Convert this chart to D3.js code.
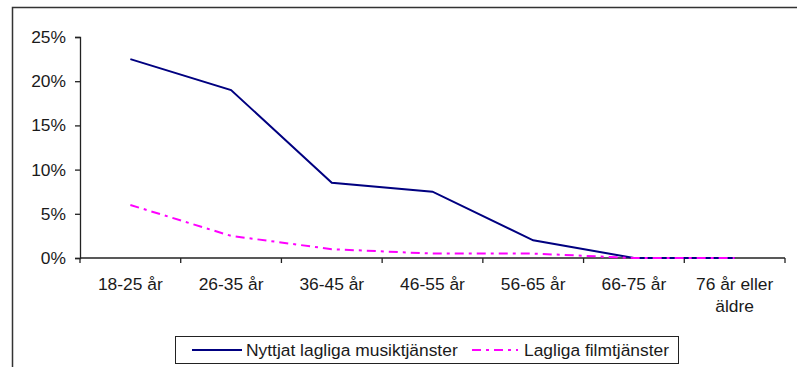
<!DOCTYPE html>
<html>
<head>
<meta charset="utf-8">
<script src="https://cdn.jsdelivr.net/npm/d3@7"></script>
<style>
  html, body { margin: 0; padding: 0; background: #fff; }
  svg { display: block; font-family: "Liberation Sans", Arial, sans-serif; }
</style>
</head>
<body>
<svg id="chart" width="797" height="367"></svg>
<script>
// Andel per åldersgrupp (procent)
const categories = ["18-25 år", "26-35 år", "36-45 år", "46-55 år", "56-65 år", "66-75 år", "76 år eller äldre"];
const musicValues = [22.5, 19, 8.5, 7.5, 2, 0, 0];
const filmValues = [6, 2.5, 1, 0.5, 0.5, 0, 0];
const yTicks = [0, 5, 10, 15, 20, 25];
const seriesNames = ["Nyttjat lagliga musiktjänster", "Lagliga filmtjänster"];

(function () {
  const svg = d3.select("#chart");
  const fontSize = 17.4;
  const axisColor = "#222";
  const textColor = "#1a1a1a";

  // Yttre ram
  svg.append("rect")
    .attr("x", 12.5).attr("y", 7.5)
    .attr("width", 820).attr("height", 400)
    .attr("fill", "none").attr("stroke", "#333").attr("stroke-width", 1.5);

  const plotLeft = 80, plotRight = 785, plotTop = 37, plotBottom = 258;

  const x = d3.scaleBand().domain(categories).range([plotLeft, plotRight]);
  const y = d3.scaleLinear().domain([0, 25]).range([plotBottom, plotTop]);

  // Y-axel
  const yAxis = d3.axisLeft(y).tickValues(yTicks).tickFormat(d => d + "%")
    .tickSizeOuter(0).tickSize(5).tickPadding(9);
  const gy = svg.append("g").attr("transform", `translate(${plotLeft},0)`).call(yAxis);
  gy.select(".domain").attr("stroke", axisColor).attr("stroke-width", 1.3);
  gy.selectAll(".tick line").attr("stroke", axisColor).attr("stroke-width", 1.3);
  gy.selectAll(".tick text").attr("font-size", fontSize).attr("fill", textColor)
    .attr("font-family", "Liberation Sans, Arial, sans-serif");

  // X-axel med streck på kategorigränserna
  const gx = svg.append("g");
  gx.append("line")
    .attr("x1", plotLeft).attr("x2", plotRight).attr("y1", plotBottom).attr("y2", plotBottom)
    .attr("stroke", axisColor).attr("stroke-width", 1.3);
  const boundaries = categories.map(c => x(c)).concat([plotRight]);
  gx.selectAll("line.tick").data(boundaries).enter().append("line")
    .attr("class", "tick")
    .attr("x1", d => d).attr("x2", d => d)
    .attr("y1", plotBottom).attr("y2", plotBottom + 5)
    .attr("stroke", axisColor).attr("stroke-width", 1.3);

  // Kategorietiketter (långa etiketter bryts på två rader)
  const labelLines = c => c === "76 år eller äldre" ? ["76 år eller", "äldre"] : [c];
  categories.forEach(c => {
    const cx = x(c) + x.bandwidth() / 2;
    const t = gx.append("text")
      .attr("x", cx)
      .attr("y", 290)
      .attr("text-anchor", "middle")
      .attr("font-size", fontSize)
      .attr("fill", textColor);
    labelLines(c).forEach((ln, i) => {
      t.append("tspan")
        .attr("x", cx)
        .attr("dy", i === 0 ? 0 : 22)
        .text(ln);
    });
  });

  // Linjer (filmserien ritas överst)
  const line = d3.line()
    .x((d, i) => x(categories[i]) + x.bandwidth() / 2)
    .y(d => y(d));

  svg.append("path")
    .datum(musicValues)
    .attr("d", line)
    .attr("fill", "none")
    .attr("stroke", "#000080")
    .attr("stroke-width", 2);

  svg.append("path")
    .datum(filmValues)
    .attr("d", line)
    .attr("fill", "none")
    .attr("stroke", "#ff00ff")
    .attr("stroke-width", 2)
    .attr("stroke-dasharray", "9,5,3,5");

  // Förklaring
  const lg = svg.append("g");
  lg.append("rect")
    .attr("x", 175.5).attr("y", 336.5)
    .attr("width", 503).attr("height", 27)
    .attr("fill", "#fff").attr("stroke", "#222").attr("stroke-width", 1);

  lg.append("line")
    .attr("x1", 192).attr("x2", 242).attr("y1", 350).attr("y2", 350)
    .attr("stroke", "#000080").attr("stroke-width", 2);
  lg.append("text")
    .attr("x", 246).attr("y", 356)
    .attr("font-size", fontSize).attr("fill", textColor)
    .text(seriesNames[0]);

  lg.append("line")
    .attr("x1", 472).attr("x2", 518).attr("y1", 350).attr("y2", 350)
    .attr("stroke", "#ff00ff").attr("stroke-width", 2)
    .attr("stroke-dasharray", "9,5,3,5");
  lg.append("text")
    .attr("x", 524).attr("y", 356)
    .attr("font-size", fontSize).attr("fill", textColor)
    .text(seriesNames[1]);
})();
</script>
</body>
</html>
